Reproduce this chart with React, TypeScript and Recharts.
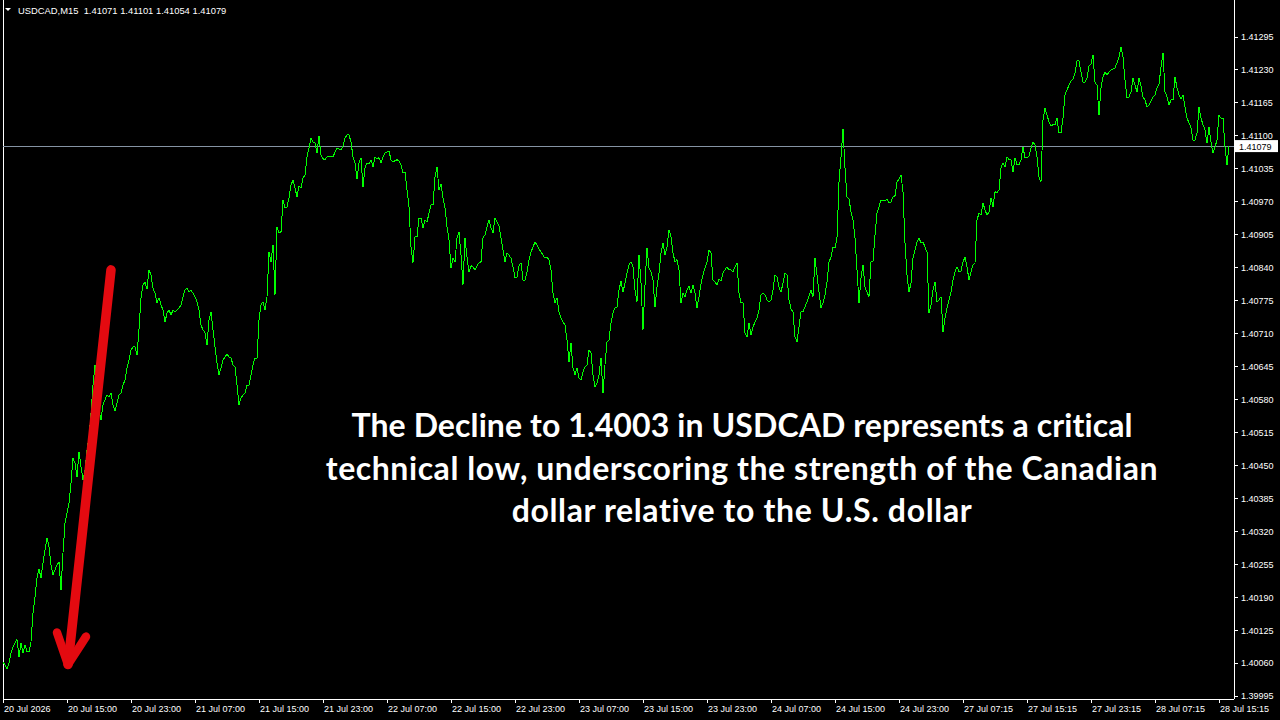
import React from 'react';
import { ComposedChart, Line, XAxis, YAxis, ReferenceLine } from 'recharts';

// USDCAD M15 closing prices, one per bar (bar 0 = 20 Jul 07:00)
const closes = [
  1.40062, 1.40056, 1.40048, 1.40060, 1.40080, 1.40092, 1.40100, 1.40106, 1.40072, 1.40100,
  1.40080, 1.40096, 1.40082, 1.40082, 1.40102, 1.40159, 1.40190, 1.40228, 1.40245, 1.40228,
  1.40257, 1.40283, 1.40307, 1.40289, 1.40253, 1.40234, 1.40244, 1.40253, 1.40259, 1.40204,
  1.40277, 1.40336, 1.40356, 1.40376, 1.40415, 1.40464, 1.40454, 1.40427, 1.40476, 1.40447,
  1.40421, 1.40441, 1.40480, 1.40506, 1.40553, 1.40608, 1.40648, 1.40618, 1.40559, 1.40539,
  1.40569, 1.40579, 1.40588, 1.40585, 1.40592, 1.40569, 1.40557, 1.40573, 1.40588, 1.40592,
  1.40608, 1.40618, 1.40642, 1.40657, 1.40677, 1.40683, 1.40683, 1.40667, 1.40717, 1.40780,
  1.40805, 1.40811, 1.40797, 1.40835, 1.40825, 1.40799, 1.40789, 1.40770, 1.40780, 1.40766,
  1.40756, 1.40732, 1.40750, 1.40756, 1.40746, 1.40756, 1.40752, 1.40756, 1.40760, 1.40766,
  1.40782, 1.40795, 1.40799, 1.40791, 1.40795, 1.40789, 1.40782, 1.40772, 1.40756, 1.40726,
  1.40717, 1.40711, 1.40687, 1.40736, 1.40752, 1.40717, 1.40683, 1.40652, 1.40628, 1.40642,
  1.40657, 1.40663, 1.40669, 1.40663, 1.40661, 1.40648, 1.40644, 1.40608, 1.40569, 1.40583,
  1.40588, 1.40592, 1.40608, 1.40608, 1.40628, 1.40648, 1.40661, 1.40661, 1.40736, 1.40766,
  1.40772, 1.40756, 1.40782, 1.40870, 1.40851, 1.40884, 1.40786, 1.40920, 1.40908, 1.40910,
  1.40973, 1.40957, 1.40959, 1.40977, 1.41002, 1.41012, 1.40996, 1.40979, 1.41000, 1.40996,
  1.41016, 1.41022, 1.41058, 1.41075, 1.41095, 1.41087, 1.41085, 1.41065, 1.41099, 1.41061,
  1.41054, 1.41052, 1.41058, 1.41058, 1.41058, 1.41058, 1.41067, 1.41075, 1.41073, 1.41071,
  1.41079, 1.41095, 1.41101, 1.41101, 1.41087, 1.41058, 1.41046, 1.41014, 1.41046, 1.41056,
  1.40998, 1.41036, 1.41046, 1.41044, 1.41052, 1.41038, 1.41058, 1.41054, 1.41056, 1.41046,
  1.41058, 1.41065, 1.41067, 1.41069, 1.41052, 1.41048, 1.41050, 1.41052, 1.41050, 1.41042,
  1.41026, 1.41028, 1.40993, 1.40959, 1.40880, 1.40849, 1.40900, 1.40900, 1.40937, 1.40937,
  1.40918, 1.40933, 1.40929, 1.40947, 1.40963, 1.40963, 1.41018, 1.41038, 1.40993, 1.41004,
  1.40977, 1.40957, 1.40920, 1.40894, 1.40839, 1.40858, 1.40851, 1.40898, 1.40910, 1.40864,
  1.40805, 1.40898, 1.40860, 1.40831, 1.40843, 1.40841, 1.40835, 1.40843, 1.40849, 1.40851,
  1.40898, 1.40904, 1.40920, 1.40933, 1.40918, 1.40908, 1.40937, 1.40929, 1.40922, 1.40898,
  1.40874, 1.40851, 1.40868, 1.40864, 1.40858, 1.40841, 1.40819, 1.40821, 1.40843, 1.40849,
  1.40815, 1.40815, 1.40831, 1.40855, 1.40870, 1.40880, 1.40890, 1.40884, 1.40876, 1.40870,
  1.40864, 1.40858, 1.40860, 1.40855, 1.40835, 1.40789, 1.40770, 1.40780, 1.40752, 1.40740,
  1.40732, 1.40726, 1.40697, 1.40653, 1.40691, 1.40642, 1.40628, 1.40642, 1.40622, 1.40618,
  1.40634, 1.40644, 1.40648, 1.40677, 1.40671, 1.40628, 1.40604, 1.40612, 1.40628, 1.40661,
  1.40592, 1.40648, 1.40693, 1.40697, 1.40730, 1.40750, 1.40760, 1.40762, 1.40795, 1.40813,
  1.40791, 1.40809, 1.40829, 1.40845, 1.40851, 1.40841, 1.40795, 1.40772, 1.40864, 1.40809,
  1.40717, 1.40805, 1.40878, 1.40839, 1.40831, 1.40815, 1.40762, 1.40801, 1.40829, 1.40868,
  1.40888, 1.40864, 1.40880, 1.40914, 1.40900, 1.40868, 1.40851, 1.40855, 1.40835, 1.40770,
  1.40789, 1.40782, 1.40795, 1.40803, 1.40789, 1.40805, 1.40789, 1.40760, 1.40782, 1.40807,
  1.40825, 1.40839, 1.40851, 1.40874, 1.40868, 1.40815, 1.40811, 1.40805, 1.40817, 1.40813,
  1.40829, 1.40835, 1.40841, 1.40835, 1.40835, 1.40831, 1.40841, 1.40849, 1.40789, 1.40770,
  1.40770, 1.40711, 1.40703, 1.40730, 1.40707, 1.40722, 1.40732, 1.40740, 1.40756, 1.40786,
  1.40789, 1.40786, 1.40776, 1.40772, 1.40776, 1.40795, 1.40825, 1.40821, 1.40801, 1.40791,
  1.40809, 1.40829, 1.40825, 1.40776, 1.40758, 1.40752, 1.40703, 1.40693, 1.40722, 1.40752,
  1.40752, 1.40762, 1.40772, 1.40784, 1.40795, 1.40782, 1.40858, 1.40825, 1.40791, 1.40760,
  1.40770, 1.40786, 1.40811, 1.40851, 1.40860, 1.40880, 1.40878, 1.40898, 1.41008, 1.41058,
  1.41113, 1.41036, 1.40979, 1.40975, 1.40949, 1.40933, 1.40898, 1.40835, 1.40770, 1.40819,
  1.40845, 1.40801, 1.40791, 1.40782, 1.40851, 1.40851, 1.40904, 1.40947, 1.40959, 1.40973,
  1.40971, 1.40971, 1.40975, 1.40967, 1.40969, 1.40979, 1.40981, 1.41008, 1.41014, 1.41022,
  1.40989, 1.40888, 1.40825, 1.40791, 1.40809, 1.40858, 1.40874, 1.40890, 1.40898, 1.40888,
  1.40890, 1.40880, 1.40870, 1.40750, 1.40766, 1.40795, 1.40811, 1.40772, 1.40776, 1.40782,
  1.40713, 1.40740, 1.40760, 1.40776, 1.40791, 1.40815, 1.40831, 1.40841, 1.40831, 1.40833,
  1.40851, 1.40860, 1.40841, 1.40815, 1.40831, 1.40845, 1.40849, 1.40933, 1.40947, 1.40943,
  1.40967, 1.40953, 1.40943, 1.40949, 1.40977, 1.40959, 1.40989, 1.40987, 1.40993, 1.41036,
  1.41046, 1.41038, 1.41058, 1.41052, 1.41052, 1.41028, 1.41056, 1.41042, 1.41042, 1.41052,
  1.41077, 1.41056, 1.41056, 1.41060, 1.41075, 1.41087, 1.41081, 1.41058, 1.41018, 1.41008,
  1.41130, 1.41154, 1.41140, 1.41127, 1.41119, 1.41121, 1.41121, 1.41134, 1.41105, 1.41105,
  1.41134, 1.41180, 1.41190, 1.41199, 1.41207, 1.41211, 1.41223, 1.41247, 1.41247, 1.41225,
  1.41205, 1.41205, 1.41213, 1.41237, 1.41241, 1.41259, 1.41205, 1.41199, 1.41140, 1.41194,
  1.41215, 1.41225, 1.41219, 1.41225, 1.41229, 1.41231, 1.41233, 1.41243, 1.41255, 1.41274,
  1.41255, 1.41209, 1.41174, 1.41176, 1.41186, 1.41213, 1.41199, 1.41186, 1.41213, 1.41197,
  1.41176, 1.41170, 1.41156, 1.41160, 1.41168, 1.41176, 1.41180, 1.41194, 1.41201, 1.41235,
  1.41263, 1.41186, 1.41176, 1.41160, 1.41170, 1.41170, 1.41215, 1.41194, 1.41180, 1.41172,
  1.41180, 1.41156, 1.41134, 1.41125, 1.41115, 1.41091, 1.41091, 1.41105, 1.41156, 1.41134,
  1.41121, 1.41111, 1.41085, 1.41117, 1.41087, 1.41065, 1.41077, 1.41091, 1.41140, 1.41134,
  1.41134, 1.41077, 1.41042, 1.41079,
];

const timeTicks = [0, 32, 64, 96, 128, 160, 192, 224, 256, 288, 320, 352, 384, 416, 448, 480, 512, 544, 576, 608];
const timeLabels = [
  '20 Jul 2026', '20 Jul 15:00', '20 Jul 23:00', '21 Jul 07:00', '21 Jul 15:00',
  '21 Jul 23:00', '22 Jul 07:00', '22 Jul 15:00', '22 Jul 23:00', '23 Jul 07:00',
  '23 Jul 15:00', '23 Jul 23:00', '24 Jul 07:00', '24 Jul 15:00', '24 Jul 23:00',
  '27 Jul 07:15', '27 Jul 15:15', '27 Jul 23:15', '28 Jul 07:15', '28 Jul 15:15',
];
const priceTicks = [
  1.39995, 1.40060, 1.40125, 1.40190, 1.40255, 1.40320, 1.40385, 1.40450, 1.40515, 1.40580,
  1.40645, 1.40710, 1.40775, 1.40840, 1.40905, 1.40970, 1.41035, 1.41100, 1.41165, 1.41230, 1.41295,
];
const priceDomain = [1.39989, 1.41367];
const barDomain = [0, 615.5];
const symbolName = 'USDCAD,M15';
const lastBarOHLC = [1.41071, 1.41101, 1.41054, 1.41079];
const lastPrice = 1.41079;

// red annotation arrow, in (bar, price) coordinates
const arrowShaft = [{ x: 54, y: 1.40835 }, { x: 32.5, y: 1.40057 }];
const arrowWingLeft = [{ x: 27, y: 1.4012 }, { x: 32.5, y: 1.40057 }];
const arrowWingRight = [{ x: 41.5, y: 1.40112 }, { x: 32.5, y: 1.40057 }];

const annotationLines = [
  'The Decline to 1.4003 in USDCAD represents a critical',
  'technical low, underscoring the strength of the Canadian',
  'dollar relative to the U.S. dollar',
];

const data = closes.map((c, i) => ({ bar: i, close: c }));

const AXIS_FONT = '"Liberation Sans", Arial, sans-serif';
const LINE_SPACING_TWEAK = [0.1, 0.55, 0.65];

const XTick = (props: any) => {
  const { x, y, payload } = props;
  const idx = timeTicks.indexOf(payload.value);
  return (
    <g>
      <line x1={x + 0.5} x2={x + 0.5} y1={y} y2={y + 4} stroke="#fff" shapeRendering="crispEdges" />
      <text x={x + 1} y={y + 13} fill="#fff" fontSize={9} fontFamily={AXIS_FONT} textAnchor="start">
        {timeLabels[idx]}
      </text>
    </g>
  );
};

const YTick = (props: any) => {
  const { x, y, payload } = props;
  return (
    <g>
      <line x1={x} x2={x + 4} y1={y + 0.5} y2={y + 0.5} stroke="#fff" shapeRendering="crispEdges" />
      <text x={x + 7} y={y + 3.5} fill="#fff" fontSize={9} fontFamily={AXIS_FONT} textAnchor="start">
        {Number(payload.value).toFixed(5)}
      </text>
    </g>
  );
};

const PriceTag = (props: any) => {
  const vb = props.viewBox || {};
  const x = vb.x + vb.width + 1;
  const y = vb.y;
  return (
    <g>
      <rect x={x} y={y - 6} width={43} height={12} fill="#fff" />
      <text x={x + 4} y={y + 3.5} fill="#000" fontSize={9} fontFamily={AXIS_FONT}>
        {lastPrice.toFixed(5)}
      </text>
    </g>
  );
};

export default function App() {
  return (
    <div style={{ position: 'absolute', left: 0, top: 0, width: 1280, height: 720, background: '#000', overflow: 'hidden' }}>
      <ComposedChart width={1280} height={720} data={data} margin={{ top: 0, right: 0, left: 3, bottom: 0 }}>
        <XAxis
          dataKey="bar"
          type="number"
          domain={barDomain}
          ticks={timeTicks}
          interval={0}
          height={21}
          tickSize={0}
          tickMargin={0}
          allowDataOverflow
          axisLine={{ stroke: '#fff', shapeRendering: 'crispEdges' }}
          tickLine={false}
          tick={<XTick />}
        />
        <YAxis
          orientation="right"
          type="number"
          domain={priceDomain}
          ticks={priceTicks}
          interval={0}
          width={46}
          tickSize={0}
          tickMargin={0}
          allowDataOverflow
          axisLine={{ stroke: '#fff', shapeRendering: 'crispEdges' }}
          tickLine={false}
          tick={<YTick />}
        />
        <ReferenceLine x={0} stroke="#fff" shapeRendering="crispEdges" />
        <ReferenceLine y={lastPrice} stroke="#8593a3" shapeRendering="crispEdges" label={<PriceTag />} />
        <Line
          type="linear"
          dataKey="close"
          stroke="#00ff00"
          strokeWidth={1}
          dot={false}
          activeDot={false}
          isAnimationActive={false}
          shapeRendering="crispEdges"
        />
        <ReferenceLine segment={arrowShaft} stroke="#e40a10" strokeWidth={9.5} strokeLinecap="round" />
        <ReferenceLine segment={arrowWingLeft} stroke="#e40a10" strokeWidth={8.5} strokeLinecap="round" />
        <ReferenceLine segment={arrowWingRight} stroke="#e40a10" strokeWidth={8.5} strokeLinecap="round" />
      </ComposedChart>
      <svg style={{ position: 'absolute', left: 0, top: 0 }} width={300} height={20}>
        <polygon points="5,8 11,8 8,11" fill="#fff" />
        <text x={18} y={14} fill="#fff" fontSize={9.4} fontFamily={AXIS_FONT} xmlSpace="preserve">
          {symbolName + '  ' + lastBarOHLC.map((v) => v.toFixed(5)).join(' ')}
        </text>
      </svg>
      <div
        style={{
          position: 'absolute',
          left: 242,
          top: 404,
          width: 1000,
          textAlign: 'center',
          color: '#fff',
          fontFamily: 'Lato, "Open Sans", sans-serif',
          fontWeight: 700,
          fontSize: 32,
          lineHeight: '42.5px',
          whiteSpace: 'nowrap',
        }}
      >
        {annotationLines.map((l, i) => (
          <div key={i} style={{ letterSpacing: LINE_SPACING_TWEAK[i] }}>{l}</div>
        ))}
      </div>
    </div>
  );
}
